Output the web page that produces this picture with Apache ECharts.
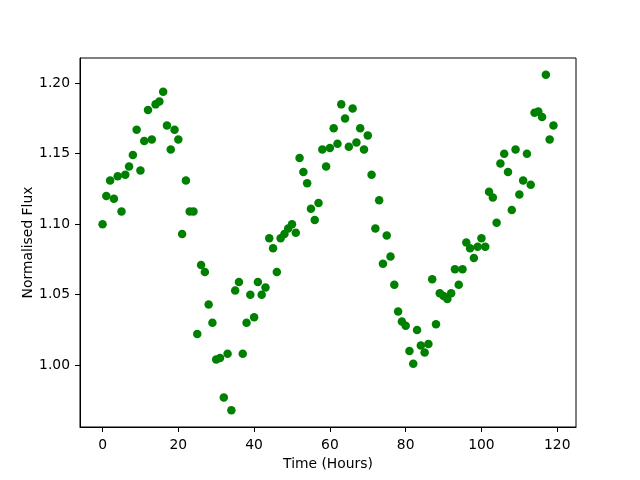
<!DOCTYPE html>
<html>
<head>
<meta charset="utf-8">
<script src="https://cdn.jsdelivr.net/npm/echarts@6/dist/echarts.min.js"></script>
<style>
  html, body { margin: 0; padding: 0; background: #fff; }
  #chart { width: 640px; height: 480px; }
</style>
</head>
<body>
<div id="chart"></div>
<script>
// 时间（小时）与归一化通量
var hours = [];
for (var h = 0; h < 120; h++) { hours.push(h); }

var flux = [
  1.100, 1.120, 1.131, 1.118, 1.134, 1.109, 1.135, 1.141, 1.149, 1.167,
  1.138, 1.159, 1.181, 1.160, 1.185, 1.187, 1.194, 1.170, 1.153, 1.167,
  1.160, 1.093, 1.131, 1.109, 1.109, 1.022, 1.071, 1.066, 1.043, 1.030,
  1.004, 1.005, 0.977, 1.008, 0.968, 1.053, 1.059, 1.008, 1.030, 1.050,
  1.034, 1.059, 1.050, 1.055, 1.090, 1.083, 1.066, 1.090, 1.093, 1.097,
  1.100, 1.094, 1.147, 1.137, 1.129, 1.111, 1.103, 1.115, 1.153, 1.141,
  1.154, 1.168, 1.157, 1.185, 1.175, 1.155, 1.182, 1.158, 1.168, 1.153,
  1.163, 1.135, 1.097, 1.117, 1.072, 1.092, 1.077, 1.057, 1.038, 1.031,
  1.028, 1.010, 1.001, 1.025, 1.014, 1.009, 1.015, 1.061, 1.029, 1.051,
  1.049, 1.047, 1.051, 1.068, 1.057, 1.068, 1.087, 1.083, 1.076, 1.084,
  1.090, 1.084, 1.123, 1.119, 1.101, 1.143, 1.150, 1.137, 1.110, 1.153,
  1.121, 1.131, 1.150, 1.128, 1.179, 1.180, 1.176, 1.206, 1.160, 1.170
];

var xTicks = [0, 20, 40, 60, 80, 100, 120];
var yTicks = [1.00, 1.05, 1.10, 1.15, 1.20];

var points = hours.map(function (h, i) { return [h, flux[i]]; });

var FONT = 'DejaVu Sans';
var FS = 13.89;

var option = {
    backgroundColor: '#fff',
    animation: false,
    grid: {
        left: 80, right: 64, top: 58, bottom: 53,
        show: true, borderColor: '#000', borderWidth: 1
    },
    xAxis: {
        type: 'value',
        min: -5.95, max: 124.95,
        name: 'Time (Hours)',
        nameLocation: 'middle',
        nameGap: 29,
        nameTextStyle: { fontFamily: FONT, fontSize: FS, color: '#000' },
        splitLine: { show: false },
        axisLine: { onZero: false, lineStyle: { color: '#000', width: 1 } },
        axisTick: { customValues: xTicks, length: 5, lineStyle: { color: '#000' } },
        axisLabel: {
            customValues: xTicks, margin: 11,
            fontFamily: FONT, fontSize: FS, color: '#000'
        }
    },
    yAxis: {
        type: 'value',
        min: 0.9561, max: 1.2179,
        name: 'Normalised Flux',
        nameLocation: 'middle',
        nameGap: 45,
        nameMoveOverlap: false,
        nameTextStyle: { fontFamily: FONT, fontSize: FS, color: '#000' },
        splitLine: { show: false },
        axisLine: { show: true, onZero: false, lineStyle: { color: '#000', width: 1 } },
        axisTick: { show: true, customValues: yTicks, length: 5, lineStyle: { color: '#000' } },
        axisLabel: {
            customValues: yTicks, margin: 10,
            fontFamily: FONT, fontSize: FS, color: '#000',
            formatter: function (v) { return v.toFixed(2); }
        }
    },
    series: [{
        type: 'scatter',
        data: points,
        symbol: 'circle',
        symbolSize: 8.5,
        itemStyle: { color: '#008000', opacity: 1 }
    }]
};

var chart = echarts.init(document.getElementById('chart'));
chart.setOption(option);
</script>
</body>
</html>
